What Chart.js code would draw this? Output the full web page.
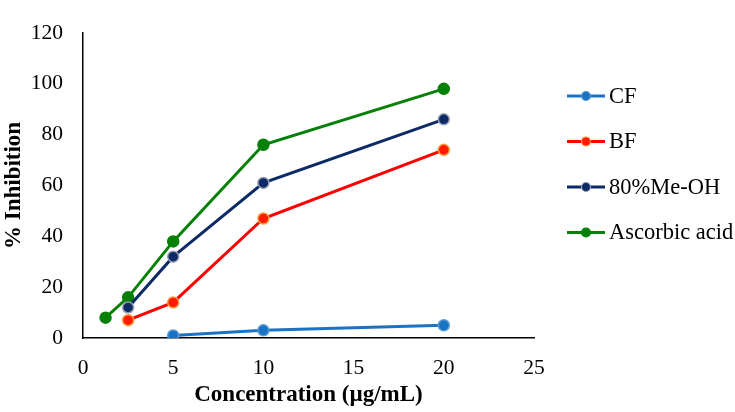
<!DOCTYPE html>
<html>
<head>
<meta charset="utf-8">
<script src="https://cdn.jsdelivr.net/npm/chart.js@4.4.0/dist/chart.umd.min.js"></script>
<style>
  html, body { margin: 0; padding: 0; background: #fff; }
  #wrap { width: 735px; height: 412px; position: relative; }
</style>
</head>
<body>
<div id="wrap"><canvas id="inhChart" width="735" height="412"></canvas></div>
<script>
// data
const cfX = [5, 10, 20];
const cfY = [1, 3, 5];
const bfX = [2.5, 5, 10, 20];
const bfY = [7, 14, 47, 74];
const meohX = [2.5, 5, 10, 20];
const meohY = [12, 32, 61, 86];
const ascX = [1.25, 2.5, 5, 10, 20];
const ascY = [8, 16, 38, 76, 98];

const seriesNames = ['CF', 'BF', '80%Me-OH', 'Ascorbic acid'];
const xTicks = [0, 5, 10, 15, 20, 25];
const yTicks = [0, 20, 40, 60, 80, 100, 120];

const serif = "'Liberation Serif', 'Times New Roman', serif";

function pts(xs, ys) {
  return xs.map((x, i) => ({ x: x, y: ys[i] }));
}

function makeSet(label, xs, ys, line, fill, edge) {
  return {
    label: label,
    data: pts(xs, ys),
    showLine: true,
    borderColor: line,
    borderWidth: 3,
    backgroundColor: line,
    pointBackgroundColor: fill,
    pointBorderColor: edge,
    pointBorderWidth: 1.5,
    pointRadius: 5.5,
    pointHoverRadius: 5.5,
    tension: 0
  };
}

const sets = [
  makeSet(seriesNames[0], cfX, cfY, '#1a72c4', '#1a72c4', '#5b9bd5'),
  makeSet(seriesNames[1], bfX, bfY, '#ff0000', '#ff1a00', '#ff9a3c'),
  makeSet(seriesNames[2], meohX, meohY, '#0b2a66', '#0b2a66', '#9aa0b0'),
  makeSet(seriesNames[3], ascX, ascY, '#078007', '#078007', '#078007')
];

// legend drawn by hand so the line + marker look like the original
const sideLegend = {
  id: 'sideLegend',
  afterDraw(chart) {
    const c = chart.ctx;
    const x0 = 567, y0 = 96, gap = 45.5;
    c.save();
    c.font = '22.5px ' + serif;
    c.textBaseline = 'middle';
    chart.data.datasets.forEach((ds, i) => {
      const y = y0 + i * gap;
      c.strokeStyle = ds.borderColor;
      c.lineWidth = 3;
      c.beginPath();
      c.moveTo(x0, y);
      c.lineTo(x0 + 38, y);
      c.stroke();
      c.beginPath();
      c.arc(x0 + 19, y, 4.5, 0, Math.PI * 2);
      c.fillStyle = ds.pointBackgroundColor;
      c.fill();
      c.lineWidth = 1.2;
      c.strokeStyle = ds.pointBorderColor;
      c.stroke();
      c.fillStyle = '#000';
      c.fillText(ds.label, x0 + 42, y + 1);
    });
    c.restore();
  }
};

new Chart(document.getElementById('inhChart').getContext('2d'), {
  type: 'scatter',
  data: { datasets: sets },
  options: {
    responsive: false,
    animation: false,
    layout: { padding: { left: 0, right: 201, top: 12, bottom: 0 } },
    plugins: {
      legend: { display: false },
      tooltip: { enabled: false }
    },
    scales: {
      x: {
        type: 'linear',
        min: 0,
        max: 25,
        afterBuildTicks(axis) { axis.ticks = xTicks.map(v => ({ value: v })); },
        afterFit(axis) { axis.height = 74; },
        grid: { display: false, drawTicks: false },
        border: { color: '#000', width: 1.5 },
        ticks: { color: '#000', padding: 17, font: { family: serif, size: 21.5 } },
        title: {
          display: true,
          text: 'Concentration (µg/mL)',
          color: '#000',
          padding: { top: 0, bottom: 3 },
          font: { family: serif, size: 23, weight: 'bold' }
        }
      },
      y: {
        min: 0,
        max: 120,
        afterBuildTicks(axis) { axis.ticks = yTicks.map(v => ({ value: v })); },
        afterFit(axis) { axis.width = 83; },
        grid: { display: false, drawTicks: false },
        border: { color: '#000', width: 1.5 },
        ticks: { color: '#000', padding: 20, font: { family: serif, size: 21.5 } },
        title: {
          display: true,
          text: '% Inhibition',
          color: '#000',
          padding: { top: 0, bottom: 0 },
          font: { family: serif, size: 23, weight: 'bold' }
        }
      }
    }
  },
  plugins: [sideLegend]
});
</script>
</body>
</html>
